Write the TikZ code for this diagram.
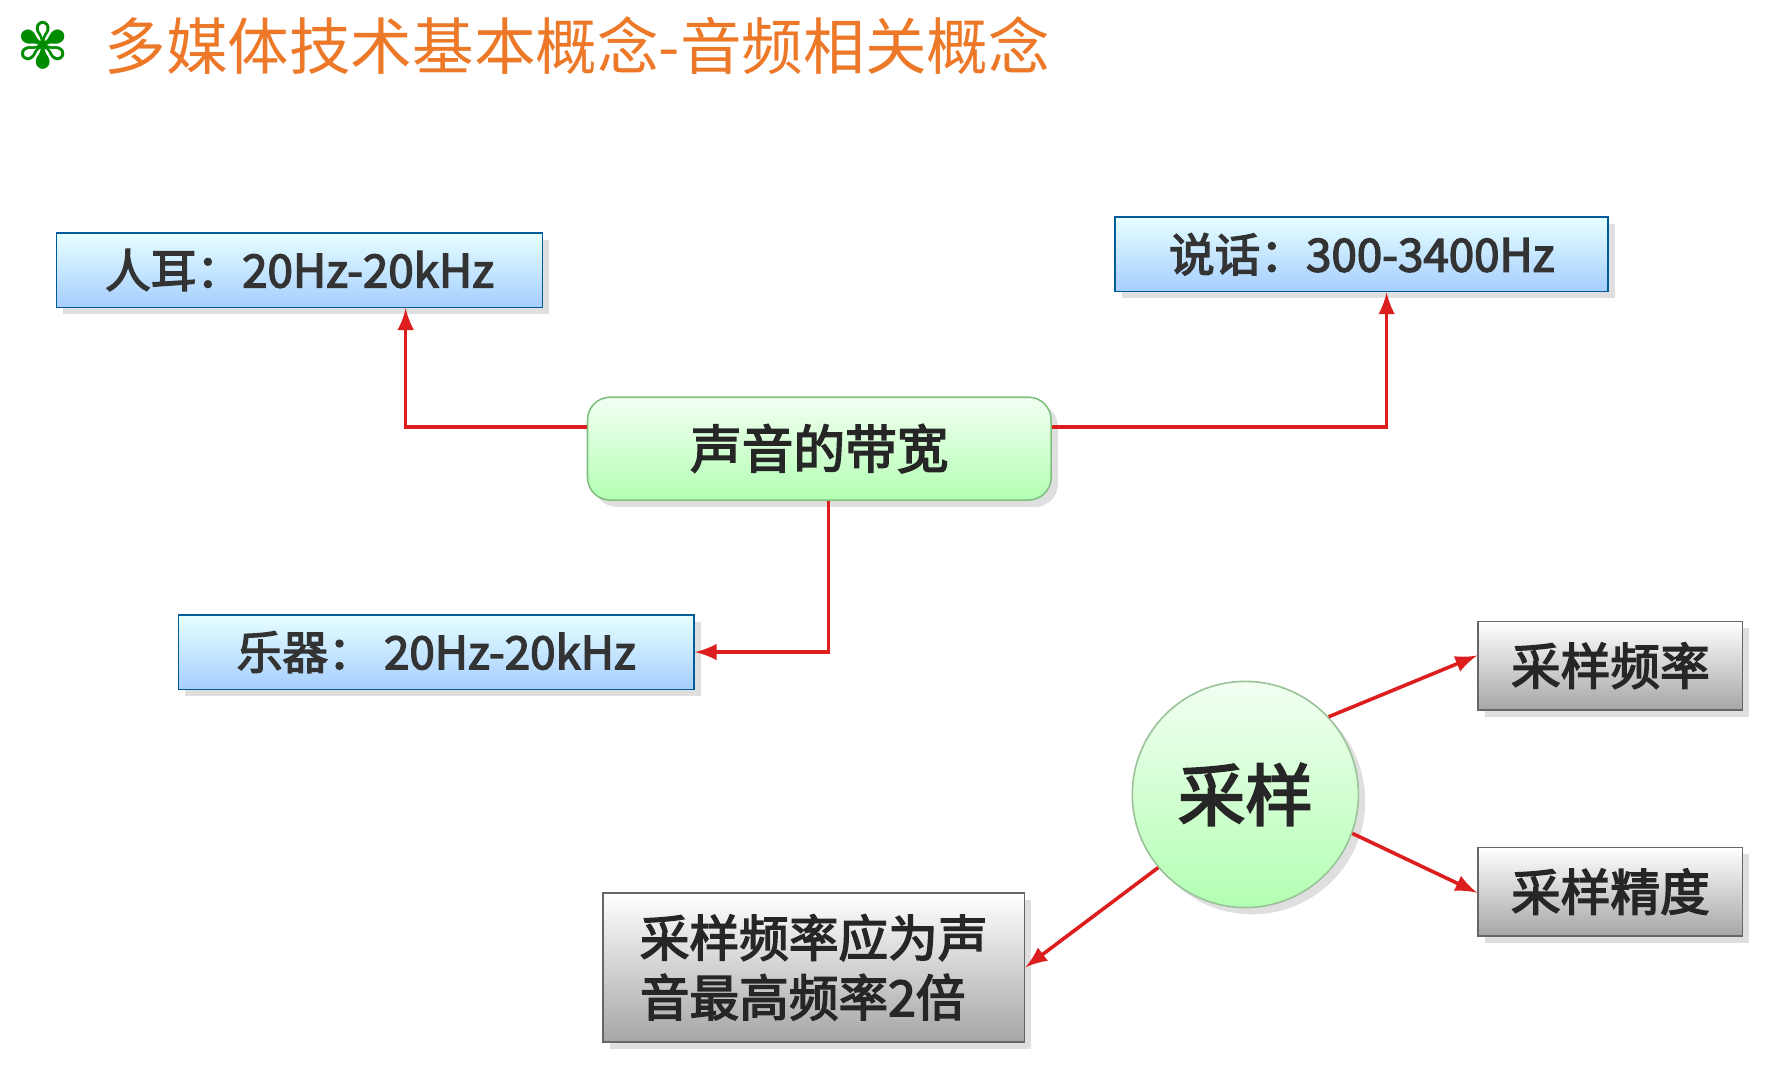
\documentclass[tikz,border=0pt]{standalone}
\usepackage{fontspec}
\setmainfont{Noto Sans CJK SC}
\newfontfamily\cjkbold{Noto Sans CJK SC}[FakeBold=3]
\newfontfamily\symfont{DejaVu Sans}
\usetikzlibrary{positioning,shadows}
\definecolor{titleorange}{RGB}{236,120,40}
\definecolor{arrowred}{RGB}{220,30,30}
\tikzset{
  softshadow/.style={drop shadow={opacity=0.25,shadow xshift=0.6mm,shadow yshift=-0.6mm}},
  bluebox/.style={draw=blue!40!cyan!60!black,top color=cyan!10,bottom color=cyan!45!blue!35,
    minimum height=6.6mm,font=\cjkbold\fontsize{11.5}{12}\selectfont,text=black!80,softshadow},
  graybox/.style={draw=black!60,top color=white,bottom color=black!35,
    font=\cjkbold\fontsize{12.5}{15}\selectfont,text=black!85,softshadow},
  greenbox/.style={draw=green!50!black!50,rounded corners=2mm,top color=green!5,bottom color=green!30,
    font=\cjkbold\fontsize{13}{14}\selectfont,text=black!85,softshadow},
  link/.style={draw=arrowred,line width=0.9pt,-latex},
}
\begin{document}
\begin{tikzpicture}[x=0.01cm,y=-0.01cm]
  \useasboundingbox[fill=white] (0,0) rectangle (1568,942);
  % title
  \node[text=green!55!black,font=\symfont\fontsize{16}{16}\selectfont] (icon) at (38,40) {✾};
  \node[anchor=west,text=titleorange,font=\fontsize{15.5}{16}\selectfont] (title) at (80,40) {多媒体技术基本概念-音频相关概念};
  % bandwidth
  \node[greenbox,minimum width=4.1cm,minimum height=0.91cm] (band) at (725,397) {声音的带宽};
  \node[bluebox,minimum width=4.3cm] (ear) at (265,239) {人耳：20Hz-20kHz};
  \node[bluebox,minimum width=4.36cm] (talk) at (1205,225) {说话：300-3400Hz};
  \node[bluebox,minimum width=4.56cm] (music) at (386,577) {乐器：\ 20Hz-20kHz};
  \draw[link] (band.west |- 0,378) -| (ear.south -| 359,0);
  \draw[link] (band.east |- 0,378) -| (talk.south -| 1227,0);
  \draw[link] (band.south -| 733,0) |- (music.east);
  % sampling
  \node[circle,draw=green!40!black!40,top color=green!5,bottom color=green!30,minimum size=2cm,
    font=\cjkbold\fontsize{17}{18}\selectfont,text=black!85,softshadow] (samp) at (1102,703) {采样};
  \node[graybox,minimum width=2.34cm,minimum height=0.78cm] (rate) at (1425,589) {采样频率};
  \node[graybox,minimum width=2.34cm,minimum height=0.78cm] (prec) at (1425,789) {采样精度};
  \node[graybox,minimum width=3.73cm,minimum height=1.32cm,align=left] (rule) at (720,856) {采样频率应为声\\音最高频率2倍};
  \draw[link] (samp.43) -- (rate.west |- 0,580);
  \draw[link] (samp.-20) -- (rate.west |- 0,790);
  \draw[link] (samp.-140) -- (rule.east);
\end{tikzpicture}
\end{document}
